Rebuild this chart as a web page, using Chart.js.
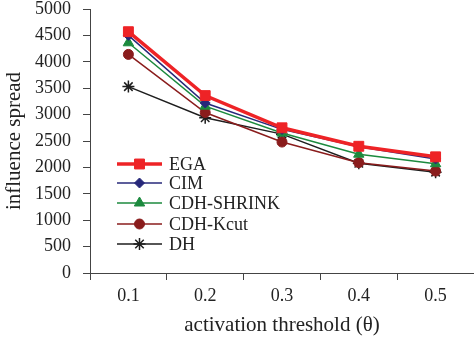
<!DOCTYPE html>
<html>
<head>
<meta charset="utf-8">
<script src="https://cdn.jsdelivr.net/npm/chart.js@4"></script>
<style>
  html, body { margin: 0; padding: 0; background: #fff; }
  #wrap { width: 474px; height: 339px; }
</style>
</head>
<body>
<div id="wrap"><canvas id="grafico"></canvas></div>
<script>
// datos
const umbrales = ['0.1', '0.2', '0.3', '0.4', '0.5'];
const ega = [4570, 3360, 2750, 2400, 2200];
const cim = [4500, 3220, 2720, 2390, 2160];
const cdhShrink = [4360, 3160, 2650, 2250, 2070];
const cdhKcut = [4140, 3040, 2480, 2090, 1930];
const dh = [3530, 2940, 2630, 2080, 1910];

const fuente = "'Liberation Serif', 'Times New Roman', serif";

// leyenda dibujada dentro del area del grafico
const leyendaInterna = {
  id: 'leyendaInterna',
  afterDraw(chart) {
    const ctx = chart.ctx;
    const x0 = 117, x1 = 162, xt = 169;
    const filas = [164, 183, 203, 224, 244];
    chart.data.datasets.forEach((ds, i) => {
      const y = filas[i];
      ctx.save();
      ctx.strokeStyle = ds.borderColor;
      ctx.fillStyle = ds.borderColor;
      ctx.lineWidth = ds.borderWidth;
      ctx.beginPath();
      ctx.moveTo(x0, y);
      ctx.lineTo(x1, y);
      ctx.stroke();
      ctx.lineWidth = ds.pointBorderWidth || 1;
      Chart.helpers.drawPoint(ctx, {
        pointStyle: ds.pointStyle,
        radius: ds.pointRadius,
        borderWidth: ds.pointBorderWidth || 1
      }, (x0 + x1) / 2, y);
      ctx.fillStyle = '#222';
      ctx.font = '18px ' + fuente;
      ctx.textBaseline = 'middle';
      ctx.fillText(ds.label, xt, y + 1);
      ctx.restore();
    });
  }
};

function serie(label, data, color, width, style, radius) {
  return {
    label: label,
    data: data,
    borderColor: color,
    backgroundColor: color,
    pointBackgroundColor: color,
    pointBorderColor: color,
    borderWidth: width,
    pointStyle: style,
    pointRadius: radius,
    pointBorderWidth: style === 'star' ? 1.5 : 1,
    tension: 0
  };
}

new Chart(document.getElementById('grafico'), {
  type: 'line',
  data: {
    labels: umbrales,
    datasets: [
      serie('EGA', ega, '#ee2326', 3.5, 'rect', 7),
      serie('CIM', cim, '#27287a', 1.5, 'rectRot', 5),
      serie('CDH-SHRINK', cdhShrink, '#1c8a3e', 1.5, 'triangle', 6),
      serie('CDH-Kcut', cdhKcut, '#8a1c1c', 1.5, 'circle', 5),
      serie('DH', dh, '#1e1e1e', 1.5, 'star', 6)
    ]
  },
  options: {
    responsive: true,
    maintainAspectRatio: false,
    animation: false,
    layout: { autoPadding: false, padding: { top: 9, right: 0, left: 0, bottom: 0 } },
    plugins: {
      legend: { display: false },
      tooltip: { enabled: false }
    },
    scales: {
      x: {
        offset: true,
        grid: {
          offset: true,
          drawOnChartArea: false,
          drawTicks: true,
          tickLength: 7,
          color: '#444'
        },
        border: { display: true, color: '#444', width: 1 },
        ticks: { color: '#222', padding: 5, font: { family: fuente, size: 18 } },
        title: {
          display: true,
          text: 'activation threshold (θ)',
          color: '#222',
          font: { family: fuente, size: 21 },
          padding: { top: 0, bottom: 1 }
        },
        afterFit(scale) {
          scale.height = 66;
          scale.paddingLeft = 0;
          scale.paddingRight = 0;
        }
      },
      y: {
        min: 0,
        max: 5000,
        grid: {
          drawOnChartArea: false,
          drawTicks: true,
          tickLength: 7,
          color: '#444'
        },
        border: { display: true, color: '#444', width: 1 },
        ticks: {
          stepSize: 500,
          color: '#222',
          padding: 12,
          font: { family: fuente, size: 18 },
          callback: v => String(v)
        },
        title: {
          display: true,
          text: 'influence spread',
          color: '#222',
          font: { family: fuente, size: 21 },
          padding: { top: 2, bottom: 0 }
        },
        afterFit(scale) {
          scale.width = 90;
          scale.paddingTop = 0;
          scale.paddingBottom = 0;
        }
      }
    }
  },
  plugins: [leyendaInterna]
});
</script>
</body>
</html>
